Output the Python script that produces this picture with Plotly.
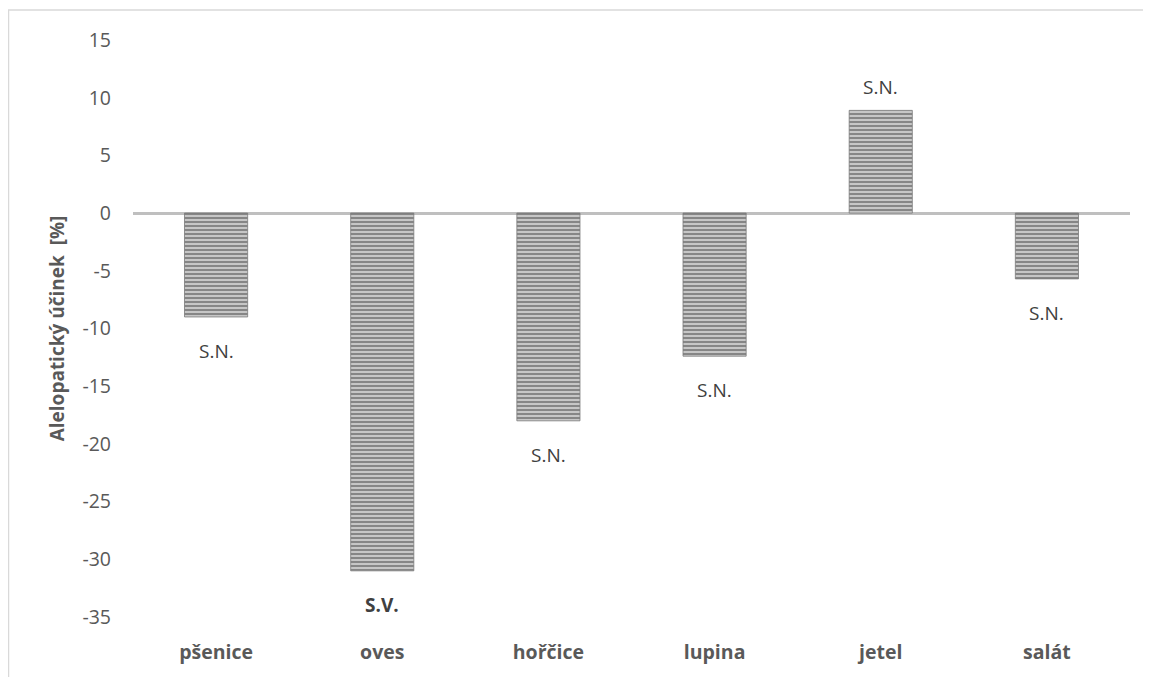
import plotly.graph_objects as go

categories = ["pšenice", "oves", "hořčice", "lupina", "jetel", "salát"]
values = [-9.0, -31.0, -18.0, -12.4, 8.9, -5.7]
labels = ["S.N.", "S.V.", "S.N.", "S.N.", "S.N.", "S.N."]
label_bold = [False, True, False, False, False, False]
y_ticks = [15, 10, 5, 0, -5, -10, -15, -20, -25, -30, -35]
y_tick_text = ["15", "10", "5", "0", "-5", "-10", "-15", "-20", "-25", "-30", "-35"]

FONT = "Open Sans, Calibri, sans-serif"
TXT = "#595959"

# page offset (body margin of the html page)
OFF = 8
W, H = 1151 - OFF, 677 - OFF
left_px, right_px, top_px, bottom_px = 133, 1130, 40, 617   # page coords of plot area
pw, ph = right_px - left_px, bottom_px - top_px

fig = go.Figure()
fig.add_trace(go.Bar(
    x=categories, y=values,
    marker=dict(
        color="#a8a8a8",
        line=dict(color="#7a7a7a", width=0.8),
        pattern=dict(shape="-", fgcolor="#454545", bgcolor="#c6c6c6",
                     size=4, solidity=0.5, fillmode="overlay"),
    ),
    hoverinfo="x+y",
))

annotations = []
for c, v, t, b in zip(categories, values, labels, label_bold):
    annotations.append(dict(
        x=c, y=v, xref="x", yref="y",
        text=f"<b>{t}</b>" if b else t,
        showarrow=False,
        yshift=23 if v >= 0 else -34,
        font=dict(family=FONT, size=19, color="#404040"),
    ))

shapes = [dict(
    type="rect", xref="paper", yref="paper",
    x0=(OFF + 0.5 - left_px) / pw, x1=(1149 - left_px) / pw,
    y0=(bottom_px - 720) / ph, y1=(bottom_px - 10) / ph,
    line=dict(color="#d9d9d9", width=1.5), fillcolor="rgba(0,0,0,0)",
    layer="below",
)]

fig.update_layout(
    width=W, height=H,
    margin=dict(l=left_px - OFF, r=W - (right_px - OFF), t=top_px - OFF,
                b=H - (bottom_px - OFF), autoexpand=False),
    paper_bgcolor="white", plot_bgcolor="white",
    bargap=0.62,
    showlegend=False,
    font=dict(family=FONT, color=TXT, size=19),
    annotations=annotations,
    shapes=shapes,
    xaxis=dict(
        showgrid=False, showline=False, ticks="",
        tickfont=dict(family=FONT, size=19.5, color=TXT, weight="bold"),
        ticklabelstandoff=21,
    ),
    yaxis=dict(
        range=[-35, 15], tickvals=y_ticks, ticktext=y_tick_text,
        showgrid=False, showline=False, ticks="",
        zeroline=True, zerolinecolor="#bfbfbf", zerolinewidth=3,
        tickfont=dict(family=FONT, size=19.5, color=TXT),
        ticklabelstandoff=21,
        title=dict(text="<b>Alelopatický účinek  [%]</b>",
                   font=dict(family=FONT, size=19, color=TXT), standoff=12),
    ),
)

fig.write_html("out.html")
